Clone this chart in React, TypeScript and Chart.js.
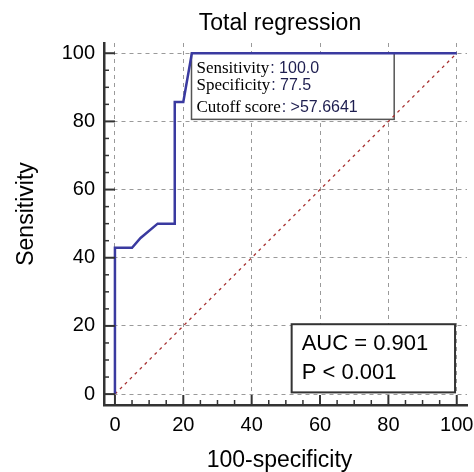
import { useEffect, useRef } from "react";
import { Chart, registerables } from "chart.js";

Chart.register(...registerables);

// ROC curve points (100-specificity, sensitivity)
const fpr = [0, 0, 5, 7.5, 12.5, 17.5, 17.5, 20, 22.5, 100];
const sens = [0, 42.9, 42.9, 45.8, 50, 50, 85.7, 85.7, 100, 100];
// reference diagonal
const refX = [0, 100];
const refY = [0, 100];
// axis ticks
const tickValues = [0, 20, 40, 60, 80, 100];
const minorStep = 5;
// texts
const chartTitle = "Total regression";
const xTitle = "100-specificity";
const yTitle = "Sensitivity";
const cutoffLabels = ["Sensitivity", "Specificity", "Cutoff score"];
const cutoffValues = ["100.0", "77.5", ">57.6641"];
const statLines = ["AUC = 0.901", "P < 0.001"];

const SANS = "'Liberation Sans', Arial, sans-serif";
const SERIF = "'Liberation Serif', 'Times New Roman', serif";

const decor = {
  id: "decor",
  beforeDatasetsDraw(chart: any) {
    const { ctx } = chart;
    const xs = chart.scales.x;
    const ys = chart.scales.y;
    ctx.save();
    // cutoff info box
    let l = xs.getPixelForValue(22.4);
    let r = xs.getPixelForValue(81.7);
    let t = ys.getPixelForValue(100);
    let b = ys.getPixelForValue(80.6);
    ctx.fillStyle = "#ffffff";
    ctx.fillRect(l, t, r - l, b - t);
    ctx.strokeStyle = "#555555";
    ctx.lineWidth = 1.5;
    ctx.strokeRect(l, t, r - l, b - t);
    // AUC box
    l = xs.getPixelForValue(51.7);
    r = xs.getPixelForValue(99.5);
    t = ys.getPixelForValue(20.5);
    b = ys.getPixelForValue(0.5);
    ctx.fillStyle = "#ffffff";
    ctx.fillRect(l, t, r - l, b - t);
    ctx.strokeStyle = "#333333";
    ctx.lineWidth = 2;
    ctx.strokeRect(l, t, r - l, b - t);
    ctx.restore();
  },
  afterDraw(chart: any) {
    const { ctx, chartArea } = chart;
    const xs = chart.scales.x;
    const ys = chart.scales.y;
    ctx.save();
    // inward ticks
    ctx.strokeStyle = "#333333";
    for (let v = 0; v <= 100; v += minorStep) {
      const major = v % 20 === 0;
      ctx.lineWidth = major ? 2 : 1.5;
      const py = ys.getPixelForValue(v);
      ctx.beginPath();
      ctx.moveTo(chartArea.left, py);
      ctx.lineTo(chartArea.left + (major ? 11 : 5), py);
      ctx.stroke();
      const px = xs.getPixelForValue(v);
      ctx.beginPath();
      ctx.moveTo(px, chartArea.bottom);
      ctx.lineTo(px, chartArea.bottom - (major ? 10 : 5));
      ctx.stroke();
    }
    // titles
    ctx.fillStyle = "#000000";
    ctx.font = `23px ${SANS}`;
    ctx.textAlign = "center";
    ctx.textBaseline = "alphabetic";
    ctx.fillText(chartTitle, 280, 29.5);
    ctx.fillText(xTitle, 279.5, 467);
    ctx.save();
    ctx.translate(33, 214);
    ctx.rotate(-Math.PI / 2);
    ctx.fillText(yTitle, 0, 0);
    ctx.restore();
    // cutoff box text
    const bl = xs.getPixelForValue(22.4) + 5;
    const bt = ys.getPixelForValue(100);
    const offs = [20, 36.7, 58.4];
    ctx.textAlign = "left";
    cutoffLabels.forEach((lab, i) => {
      ctx.font = `17px ${SERIF}`;
      ctx.fillStyle = "#000000";
      ctx.fillText(lab, bl, bt + offs[i]);
      const w = ctx.measureText(lab).width;
      ctx.font = `16px ${SANS}`;
      ctx.fillStyle = "#1e1e50";
      ctx.fillText(": " + cutoffValues[i], bl + w + 1, bt + offs[i]);
    });
    // AUC box text
    const al = xs.getPixelForValue(51.7) + 10;
    const at = ys.getPixelForValue(20.5);
    ctx.font = `22px ${SANS}`;
    ctx.fillStyle = "#000000";
    ctx.fillText(statLines[0], al, at + 26);
    ctx.fillText(statLines[1], al, at + 55);
    ctx.restore();
  },
};

const zeroPad = (s: any) => {
  s.paddingLeft = 0;
  s.paddingRight = 0;
  s.paddingTop = 0;
  s.paddingBottom = 0;
};

export default function App() {
  const ref = useRef<HTMLCanvasElement>(null);
  useEffect(() => {
    if (!ref.current) return;
    const chart = new Chart(ref.current, {
      type: "scatter",
      data: {
        datasets: [
          {
            data: fpr.map((x, i) => ({ x, y: sens[i] })),
            showLine: true,
            borderColor: "#3a3aa0",
            borderWidth: 2.5,
            pointRadius: 0,
            tension: 0,
            order: 1,
          },
          {
            data: refX.map((x, i) => ({ x, y: refY[i] })),
            showLine: true,
            borderColor: "#a83232",
            borderWidth: 1.3,
            borderDash: [3, 4],
            pointRadius: 0,
            order: 2,
          },
        ],
      },
      options: {
        animation: false,
        responsive: false,
        maintainAspectRatio: false,
        layout: { padding: { top: 43, right: 7, left: 0, bottom: 0 } },
        plugins: {
          legend: { display: false },
          title: { display: false },
          tooltip: { enabled: false },
        },
        scales: {
          x: {
            type: "linear",
            min: -3.2,
            max: 103,
            afterBuildTicks: (s: any) => {
              s.ticks = tickValues.map((v) => ({ value: v }));
            },
            afterFit: (s: any) => {
              s.height = 67;
              zeroPad(s);
            },
            grid: { color: "#9a9a9a", lineWidth: 1, drawTicks: false },
            border: { display: true, color: "#333333", width: 2.5, dash: [4, 4] },
            ticks: {
              padding: 8,
              color: "#000000",
              font: { family: SANS, size: 20 },
              autoSkip: false,
              maxRotation: 0,
            },
          },
          y: {
            type: "linear",
            min: -3.2,
            max: 103,
            afterBuildTicks: (s: any) => {
              s.ticks = tickValues.map((v) => ({ value: v }));
            },
            afterFit: (s: any) => {
              s.width = 104;
              zeroPad(s);
            },
            grid: { color: "#9a9a9a", lineWidth: 1, drawTicks: false },
            border: { display: true, color: "#333333", width: 2.5, dash: [4, 4] },
            ticks: {
              padding: 9,
              color: "#000000",
              font: { family: SANS, size: 20 },
              autoSkip: false,
            },
          },
        },
      },
      plugins: [decor],
    } as any);
    return () => chart.destroy();
  }, []);
  return (
    <div style={{ position: "absolute", left: 0, top: 0, width: 474, height: 472, background: "#fff" }}>
      <canvas ref={ref} width={474} height={472} style={{ width: 474, height: 472 }} />
    </div>
  );
}
